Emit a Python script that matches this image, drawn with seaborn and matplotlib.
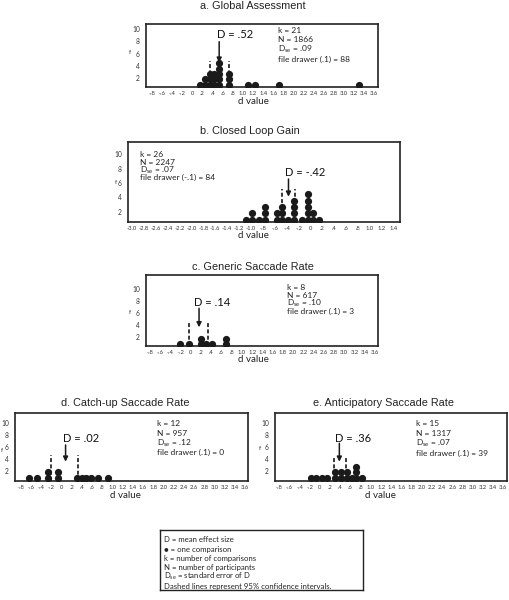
import matplotlib
matplotlib.use("Agg")
import matplotlib.pyplot as plt
import numpy as np
import pandas as pd
import seaborn as sns

# ---------------- data ----------------
titles = ["a. Global Assessment", "b. Closed Loop Gain", "c. Generic Saccade Rate",
          "d. Catch-up Saccade Rate", "e. Anticipatory Saccade Rate"]

# d-value columns and number of comparisons stacked at each column
a_d = [0.15, 0.25, 0.35, 0.43, 0.53, 0.72, 1.11, 1.23, 1.72, 3.29]
a_n = [1, 2, 3, 3, 5, 3, 1, 1, 1, 1]
b_d = [-1.08, -0.99, -0.87, -0.77, -0.56, -0.48, -0.37, -0.27, -0.14, -0.05, 0.05, 0.15]
b_n = [1, 2, 1, 3, 2, 3, 1, 4, 1, 5, 2, 1]
c_d = [-0.21, -0.04, 0.19, 0.30, 0.41, 0.69]
c_n = [1, 1, 2, 1, 1, 2]
d_d = [-0.63, -0.49, -0.26, -0.06, 0.31, 0.41, 0.49, 0.57, 0.72, 0.92]
d_n = [1, 1, 2, 2, 1, 1, 1, 1, 1, 1]
e_d = [-0.18, -0.07, 0.03, 0.13, 0.29, 0.41, 0.53, 0.62, 0.71, 0.82]
e_n = [1, 1, 1, 1, 2, 2, 2, 1, 3, 1]

mean_labels = ["D = .52", "D = -.42", "D = .14", "D = .02", "D = .36"]
arrow_d = [0.53, -0.37, 0.16, 0.08, 0.38]
ci_low = [0.35, -0.48, -0.03, -0.21, 0.27]
ci_high = [0.72, -0.26, 0.34, 0.32, 0.51]
k_vals = [21, 26, 8, 12, 15]
n_vals = [1866, 2247, 617, 957, 1317]
dse_vals = [".09", ".07", ".10", ".12", ".07"]
fd_crit = [".1", "-.1", ".1", ".1", ".1"]
fd_vals = [88, 84, 3, 0, 39]

ticks_main = np.round(np.arange(-0.8, 3.61, 0.2), 1)
ticks_b = np.round(np.arange(-3.0, 1.41, 0.2), 1)
f_ticks = [2, 4, 6, 8, 10]

legend_lines = ["D = mean effect size",
                "\u25CF = one comparison",
                "k = number of comparisons",
                "N = number of participants",
                r"D$_{\mathregular{se}}$ = standard error of D",
                "Dashed lines represent 95% confidence intervals."]

# ---------------- style ----------------
W, H = 509, 600
sns.set_theme(style="white")
plt.rcParams["font.family"] = ["Lato", "DejaVu Sans"]
plt.rcParams["mathtext.fontset"] = "custom"
plt.rcParams["mathtext.rm"] = "Lato"
plt.rcParams["mathtext.it"] = "Lato:italic"

TITLE_FONT = ["Liberation Sans", "DejaVu Sans"]
INK = "#1a1a1a"


def fx(x):
    return x / W


def fy(y):
    return 1 - y / H


def fmt(v):
    if abs(v) < 1e-9:
        return "0"
    s = f"{abs(v):.1f}"
    if abs(v) < 1:
        s = s[1:]
    return ("-" if v < 0 else "") + s


layout = [
    dict(box=(146, 24, 378, 87), xlim=(-0.919, 3.675), ylim=(0.53, 10.82), ticks=ticks_main,
         title=(253, 6), xlabel=(253.5, 102), ylabel=(129, 53),
         stats=(278, 30.5, 9.5), dlab=(216.7, 35), arrow=(41.7, 62.7), dash_top=61),
    dict(box=(128, 142, 400, 222), xlim=(-3.067, 1.504), ylim=(0.565, 11.71), ticks=ticks_b,
         title=(250, 130.7), xlabel=(253, 236), ylabel=(114.5, 182.7),
         stats=(140, 154.3, 7.8), dlab=(285, 172.7), arrow=(179, 196.7), dash_top=189.3),
    dict(box=(146, 275, 378, 346), xlim=(-0.878, 3.662), ylim=(0.56, 12.3), ticks=ticks_main,
         title=(253, 266.7), xlabel=(253, 359.5), ylabel=(129, 312.7),
         stats=(286.7, 287.3, 7.9), dlab=(194, 302.7), arrow=(308.3, 327.3), dash_top=320.7),
    dict(box=(15, 413, 248, 481), xlim=(-0.912, 3.657), ylim=(0.32, 11.73), ticks=ticks_main,
         title=(125, 402.7), xlabel=(125, 495), ylabel=(1, 450),
         stats=(156.7, 423.3, 9.8), dlab=(63.3, 439), arrow=(445, 461.7), dash_top=455),
    dict(box=(275, 413, 507, 481), xlim=(-0.884, 3.673), ylim=(0.32, 11.73), ticks=ticks_main,
         title=(383.3, 402.7), xlabel=(380, 495), ylabel=(259, 448.3),
         stats=(415.7, 423.3, 9.9), dlab=(335, 438.3), arrow=(443.3, 461.7), dash_top=455.7),
]

cols = [a_d, b_d, c_d, d_d, e_d]
counts = [a_n, b_n, c_n, d_n, e_n]

fig = plt.figure(figsize=(W / 100, H / 100), dpi=100)
fig.patch.set_facecolor("white")

for p in range(5):
    L = layout[p]
    l, t, r, b = L["box"]
    ax = fig.add_axes([fx(l), fy(b), (r - l) / W, (b - t) / H])
    ax.set_facecolor("white")

    def yfrac(y):
        return (b - y) / (b - t)

    # stacked dots
    rows = []
    for d, n in zip(cols[p], counts[p]):
        for i in range(1, n + 1):
            rows.append({"d": d, "stack": i})
    df = pd.DataFrame(rows)
    df["f"] = 0.88 * df["stack"] + 0.02

    # dashed CI lines (behind dots)
    ax.vlines([ci_low[p], ci_high[p]], 0, yfrac(L["dash_top"]),
              transform=ax.get_xaxis_transform(), colors="#2a2a2a",
              linestyles=(0, (2.2, 1.3)), linewidth=1.3, zorder=2)

    sns.scatterplot(data=df, x="d", y="f", ax=ax, s=27, color=INK,
                    linewidth=0, legend=False, zorder=3)

    # arrow for mean D
    ax.annotate("", xy=(arrow_d[p], yfrac(L["arrow"][1])),
                xytext=(arrow_d[p], yfrac(L["arrow"][0])),
                xycoords=ax.get_xaxis_transform(), textcoords=ax.get_xaxis_transform(),
                arrowprops=dict(arrowstyle="-|>", color=INK, lw=1.1,
                                mutation_scale=7, shrinkA=0, shrinkB=0), zorder=4)

    ax.set_xlim(*L["xlim"])
    ax.set_ylim(*L["ylim"])
    ax.set_xticks(L["ticks"])
    ax.set_xticklabels([fmt(v) for v in L["ticks"]], fontsize=4.2, color="#333333")
    ax.set_yticks(f_ticks)
    ax.set_yticklabels([str(v) for v in f_ticks], fontsize=4.8, color="#333333")
    ax.tick_params(axis="x", direction="out", length=2, width=0.6, pad=0.8, colors="#333333")
    ax.tick_params(axis="y", direction="out", length=3.5, width=0.9, pad=1, colors="#333333")
    ax.set_xlabel("")
    ax.set_ylabel("")
    for s in ax.spines.values():
        s.set_visible(True)
        s.set_color("#222222")
        s.set_linewidth(1.2)

    # titles and labels
    tx, ty = L["title"]
    fig.text(fx(tx), fy(ty), titles[p], ha="center", va="center", fontsize=7.8,
             family=TITLE_FONT, color="#222222")
    xx, xy = L["xlabel"]
    fig.text(fx(xx), fy(xy), "d value", ha="center", va="center", fontsize=7, color="#222222")
    lx, ly = L["ylabel"]
    fig.text(fx(lx), fy(ly), "f", ha="left", va="center", fontsize=4.5, color="#333333")

    # statistics block
    sx, sy, sp = L["stats"]
    stats = [f"k = {k_vals[p]}", f"N = {n_vals[p]}",
             r"D$_{\mathregular{se}}$ = " + dse_vals[p],
             f"file drawer ({fd_crit[p]}) = {fd_vals[p]}"]
    for j, s in enumerate(stats):
        fig.text(fx(sx), fy(sy + j * sp), s, ha="left", va="center", fontsize=6.0,
                 color="#222222")

    dx, dy = L["dlab"]
    fig.text(fx(dx), fy(dy), mean_labels[p], ha="left", va="center", fontsize=8,
             color="#111111")

# legend box
lax = fig.add_axes([fx(160), fy(590), (363 - 160) / W, (590 - 530) / H])
lax.set_xticks([])
lax.set_yticks([])
lax.set_facecolor("white")
for s in lax.spines.values():
    s.set_visible(True)
    s.set_color("#222222")
    s.set_linewidth(1.0)
for j, s in enumerate(legend_lines):
    fig.text(fx(163.5), fy(540 + j * 9.2), s, ha="left", va="center", fontsize=5.6,
             color="#222222")

fig.savefig("out.png", dpi=100, facecolor="white")
